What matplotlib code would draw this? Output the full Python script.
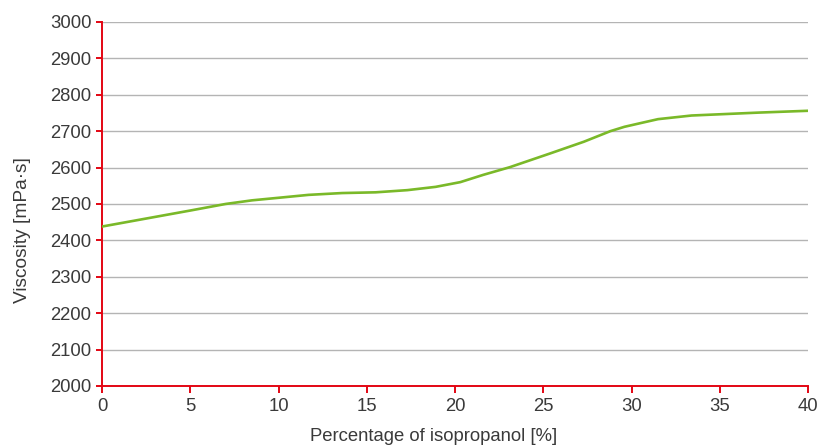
import matplotlib.pyplot as plt

plt.rcParams['font.family'] = ['Liberation Sans', 'DejaVu Sans']

# values
isopropanol = [0, 2.5, 5, 7, 8.5, 10, 11.7, 13.6, 15.5, 17.3, 18.9, 20.3, 21.6, 23.1,
               25.4, 27.3, 28.8, 29.6, 30.5, 31.5, 33.4, 35.3, 37.2, 40]
viscosity = [2438, 2460, 2482, 2500, 2510, 2517, 2525, 2530, 2532, 2538, 2547, 2560,
             2580, 2601, 2639, 2671, 2700, 2712, 2722, 2733, 2743, 2747, 2751, 2756]

x_ticks = [0, 5, 10, 15, 20, 25, 30, 35, 40]
y_ticks = list(range(2000, 3001, 100))

red = '#e30613'
green = '#7ab929'
text_col = '#3a3a3a'

fig = plt.figure(figsize=(8.35, 4.48), dpi=100)
ax = fig.add_axes([0.1222, 0.1384, 0.8455, 0.8126])

ax.plot(isopropanol, viscosity, color=green, lw=1.9, solid_joinstyle='round',
        solid_capstyle='round', zorder=3)

ax.set_xlim(0, 40)
ax.set_ylim(2000, 3000)
ax.set_xticks(x_ticks)
ax.set_yticks(y_ticks)

# horizontal grid only
ax.yaxis.grid(True, color='#b4b4b4', lw=1)
ax.set_axisbelow(True)

for side in ['top', 'right']:
    ax.spines[side].set_visible(False)
for side in ['left', 'bottom']:
    ax.spines[side].set_color(red)
    ax.spines[side].set_linewidth(1.4)

ax.tick_params(axis='y', colors=red, length=4.5, width=1.4, pad=3, labelcolor=text_col, labelsize=13.3)
ax.tick_params(axis='x', colors=red, length=5, width=1.4, pad=4, labelcolor=text_col, labelsize=13.3)

ax.set_xlabel('Percentage of isopropanol [%]', color=text_col, fontsize=13.3, va='center')
ax.set_ylabel('Viscosity [mPa·s]', color=text_col, fontsize=13.8, va='center')
# labels sit off-centre in the reference
ax.xaxis.set_label_coords(0.470, -0.140)
ax.yaxis.set_label_coords(-0.113, 0.4286)

plt.savefig('out.png', dpi=100)
